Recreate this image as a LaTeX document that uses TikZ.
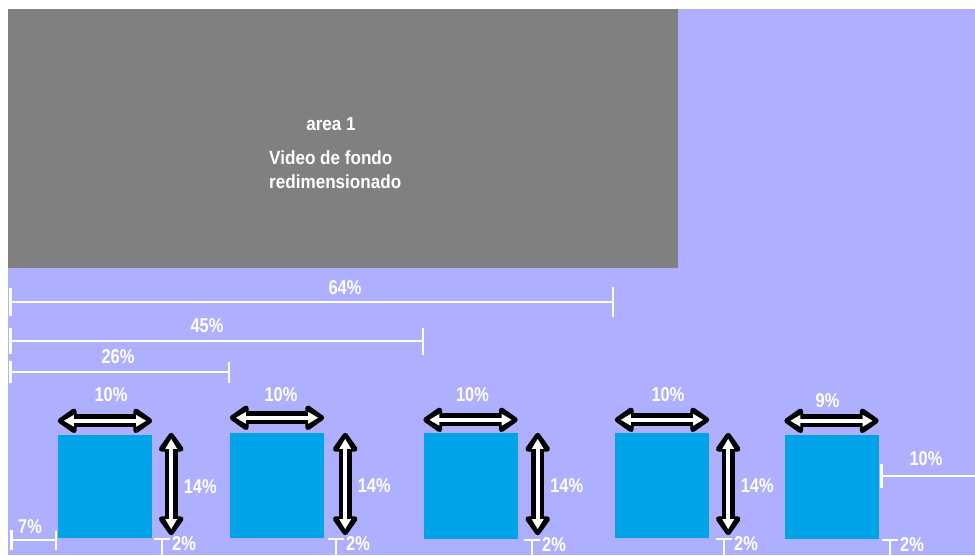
\documentclass[tikz,border=0pt]{standalone}
\usepackage{fontspec}
\newfontfamily\labelfont{Liberation Sans Bold}[FakeStretch=0.82]
\newfontfamily\areafont{Liberation Sans Bold}[FakeStretch=0.9]
\usetikzlibrary{arrows.meta, positioning, calc}
\definecolor{lavender}{RGB}{175,175,255}
\definecolor{screenblue}{RGB}{0,162,232}
\definecolor{videogray}{RGB}{128,128,128}

\begin{document}
\begin{tikzpicture}[
    x=1pt, y=-1pt,
    pct/.style={text=white, font=\labelfont\fontsize{20}{22}\selectfont, inner sep=0pt},
    areatext/.style={text=white, font=\areafont\fontsize{19}{24}\selectfont, inner sep=0pt},
    screen/.style={rectangle, fill=screenblue, inner sep=0pt, minimum width=94pt},
    measure/.style={draw=white, line width=2.5pt},
    gapmark/.style={draw=white, line width=2pt, {Bar[width=16pt]}-{}},
    span/.style={draw=white, line width=4pt, shorten <=6pt, shorten >=6pt,
        {Triangle[length=10pt,width=11pt]}-{Triangle[length=10pt,width=11pt]},
        preaction={draw=black, line width=13pt, shorten <=0pt, shorten >=0pt,
        {Triangle[length=21pt,width=28pt,round]}-{Triangle[length=21pt,width=28pt,round]}}}
]
    \useasboundingbox (0,0) rectangle (975,555);

    % --- backdrop ---
    \fill[white] (0,0) rectangle (975,555);
    \fill[lavender] (8,9) rectangle (975,555);
    \node[rectangle, fill=videogray, inner sep=0pt, minimum width=670pt, minimum height=259pt] (video) at (343,138.5) {};
    \node[areatext] (areaname) at (331,124) {area 1};
    \node[areatext, align=left, anchor=west] (areadesc) at (269,170) {Video de fondo\\ redimensionado};

    % --- width guides ---
    \coordinate (m64a) at (9,302);  \coordinate (m64b) at (614,302);
    \coordinate (m45a) at (9,341);  \coordinate (m45b) at (424,341);
    \coordinate (m26a) at (9,372);  \coordinate (m26b) at (230,372);
    \draw[measure, {Bar[width=28pt]}-{Bar[width=30pt]}] (m64a) -- (m64b);
    \draw[measure, {Bar[width=26pt]}-{Bar[width=27pt]}] (m45a) -- (m45b);
    \draw[measure, {Bar[width=22pt]}-{Bar[width=21pt]}] (m26a) -- (m26b);
    \node[pct] (l64) at (345,288) {64\%};
    \node[pct] (l45) at (207,326) {45\%};
    \node[pct] (l26) at (118,357) {26\%};

    % --- screens ---
    \node[screen, minimum height=103pt] (box1) at (105,486.5) {};
    \node[screen, minimum height=105pt] (box2) at (277,485.5) {};
    \node[screen, minimum height=106pt] (box3) at (470.5,486) {};
    \node[screen, minimum height=105pt] (box4) at (662,485.5) {};
    \node[screen, minimum height=104pt] (box5) at (831.5,487) {};

    % width arrows
    \draw[span] ([yshift=14pt]box1.north west) -- ([yshift=14pt]box1.north east);
    \draw[span] ([yshift=15pt]box2.north west) -- ([yshift=15pt]box2.north east);
    \draw[span] ([yshift=13pt]box3.north west) -- ([yshift=13pt]box3.north east);
    \draw[span] ([yshift=13pt]box4.north west) -- ([yshift=13pt]box4.north east);
    \draw[span] ([yshift=14pt]box5.north west) -- ([yshift=14pt]box5.north east);
    \node[pct] (w1) at ([xshift=6pt,yshift=40pt]box1.north) {10\%};
    \node[pct] (w2) at ([xshift=4pt,yshift=38pt]box2.north) {10\%};
    \node[pct] (w3) at ([xshift=2pt,yshift=38pt]box3.north) {10\%};
    \node[pct] (w4) at ([xshift=6pt,yshift=38pt]box4.north) {10\%};
    \node[pct] (w5) at ([xshift=-4pt,yshift=34pt]box5.north) {9\%};

    % height arrows
    \draw[span] ([xshift=19pt,yshift=2pt]box1.north east) -- ([xshift=19pt,yshift=3pt]box1.south east);
    \draw[span] ([xshift=21pt]box2.north east) -- ([xshift=21pt,yshift=3pt]box2.south east);
    \draw[span] ([xshift=20pt]box3.north east) -- ([xshift=20pt,yshift=4pt]box3.south east);
    \draw[span] ([xshift=19pt]box4.north east) -- ([xshift=19pt,yshift=3pt]box4.south east);
    \node[pct] (h1) at ([xshift=48pt]box1.east) {14\%};
    \node[pct] (h2) at ([xshift=50pt]box2.east) {14\%};
    \node[pct] (h3) at ([xshift=49pt]box3.east) {14\%};
    \node[pct] (h4) at ([xshift=48pt]box4.east) {14\%};

    % --- bottom gaps ---
    \coordinate (bottom) at (0,556);
    \coordinate (gap1) at (162,538);
    \coordinate (gap2) at (336,538);
    \coordinate (gap3) at (532,539);
    \coordinate (gap4) at (724,538);
    \coordinate (gap5) at (890,539);
    \draw[gapmark] (gap1) -- (gap1 |- bottom);
    \draw[gapmark] (gap2) -- (gap2 |- bottom);
    \draw[gapmark] (gap3) -- (gap3 |- bottom);
    \draw[gapmark] (gap4) -- (gap4 |- bottom);
    \draw[gapmark] (gap5) -- (gap5 |- bottom);
    \node[pct, anchor=west] (g1) at ([xshift=10pt,yshift=-6pt]gap1) {2\%};
    \node[pct, anchor=west] (g2) at ([xshift=10pt,yshift=-6pt]gap2) {2\%};
    \node[pct, anchor=west] (g3) at ([xshift=10pt,yshift=-6pt]gap3) {2\%};
    \node[pct, anchor=west] (g4) at ([xshift=10pt,yshift=-6pt]gap4) {2\%};
    \node[pct, anchor=west] (g5) at ([xshift=10pt,yshift=-6pt]gap5) {2\%};

    % --- side margins ---
    \coordinate (m7a) at (10,540);  \coordinate (m7b) at (57,540);
    \draw[measure, {Bar[width=20pt]}-{Bar[width=19pt]}] (m7a) -- (m7b);
    \node[pct] (l7) at (30,527) {7\%};
    \coordinate (m10a) at (880,476);  \coordinate (m10b) at (976,476);
    \draw[measure, {Bar[width=24pt]}-{}] (m10a) -- (m10b);
    \node[pct] (l10) at (926,459) {10\%};

\end{tikzpicture}
\end{document}
